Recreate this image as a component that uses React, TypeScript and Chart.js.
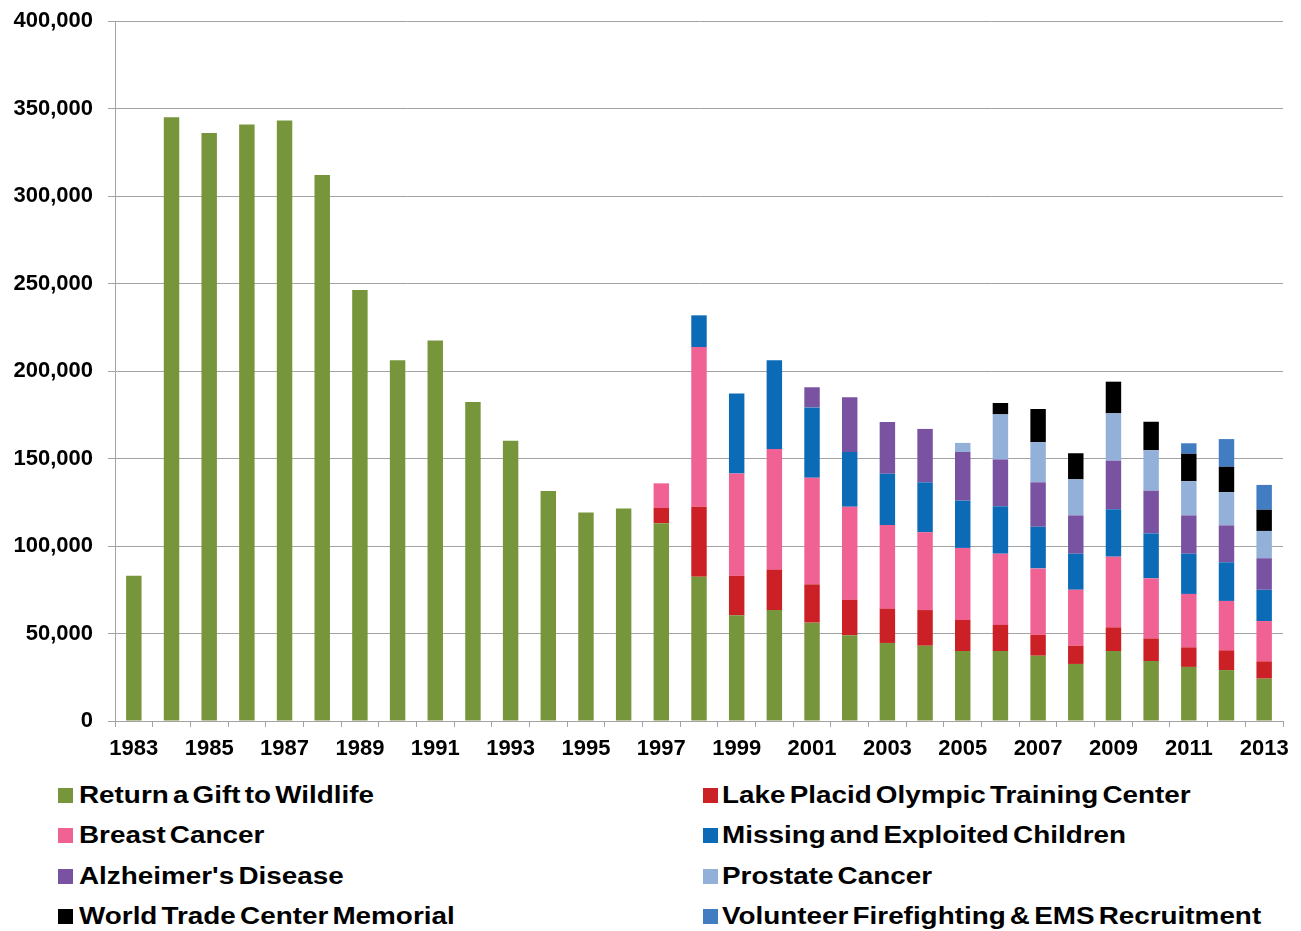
import React, { useEffect, useRef } from "react";
import { Chart, registerables } from "chart.js";

Chart.register(...registerables);

const years = [
  "1983", "1984", "1985", "1986", "1987", "1988", "1989", "1990", "1991", "1992",
  "1993", "1994", "1995", "1996", "1997", "1998", "1999", "2000", "2001", "2002",
  "2003", "2004", "2005", "2006", "2007", "2008", "2009", "2010", "2011", "2012", "2013",
];

const wildlife = [
  83000, 345000, 336000, 340800, 343200, 312000, 246300, 206100, 217500, 182300,
  160200, 131400, 119200, 121500, 113000, 82500, 60400, 63400, 56200, 49000,
  44600, 43000, 40000, 40000, 37300, 32600, 40000, 34300, 30900, 29100, 24200,
];
const lakePlacid = [
  null, null, null, null, null, null, null, null, null, null,
  null, null, null, null, 8700, 40000, 22600, 23100, 21900, 20300,
  19600, 20400, 17700, 14900, 12000, 10400, 13500, 12900, 11200, 11300, 9900,
];
const breastCancer = [
  null, null, null, null, null, null, null, null, null, null,
  null, null, null, null, 14100, 91200, 58500, 68900, 60900, 53200,
  47800, 44400, 41200, 40700, 37900, 32000, 40400, 34300, 30500, 28200, 23000,
];
const missingChildren = [
  null, null, null, null, null, null, null, null, null, null,
  null, null, null, null, null, 18100, 45700, 50700, 40200, 31200,
  29300, 28600, 27000, 27100, 23800, 20600, 27100, 25700, 23000, 22100, 17900,
];
const alzheimers = [
  null, null, null, null, null, null, null, null, null, null,
  null, null, null, null, null, null, null, null, 11500, 31300,
  29600, 30500, 27800, 26800, 25400, 21900, 27800, 24400, 21900, 21100, 18000,
];
const prostateCancer = [
  null, null, null, null, null, null, null, null, null, null,
  null, null, null, null, null, null, null, null, null, null,
  null, null, 5200, 25700, 23000, 20600, 27000, 23100, 19600, 18900, 15600,
];
const wtcMemorial = [
  null, null, null, null, null, null, null, null, null, null,
  null, null, null, null, null, null, null, null, null, null,
  null, null, null, 6500, 18900, 14900, 18100, 16300, 15600, 14600, 12100,
];
const volunteerFire = [
  null, null, null, null, null, null, null, null, null, null,
  null, null, null, null, null, null, null, null, null, null,
  null, null, null, null, null, null, null, null, 6000, 15800, 14200,
];

const yTicks = [0, 50000, 100000, 150000, 200000, 250000, 300000, 350000, 400000];

const seriesNames = [
  "Return a Gift to Wildlife",
  "Lake Placid Olympic Training Center",
  "Breast Cancer",
  "Missing and Exploited Children",
  "Alzheimer's Disease",
  "Prostate Cancer",
  "World Trade Center Memorial",
  "Volunteer Firefighting & EMS Recruitment",
];
const seriesColors = [
  "#77963B",
  "#CC2027",
  "#F06194",
  "#0C6BB6",
  "#7953A1",
  "#93B1D8",
  "#000000",
  "#417DC0",
];
const seriesData = [
  wildlife, lakePlacid, breastCancer, missingChildren,
  alzheimers, prostateCancer, wtcMemorial, volunteerFire,
];

// legend layout: [column, row] per series
const legendPos = [
  [0, 0], [1, 0], [0, 1], [1, 1], [0, 2], [1, 2], [0, 3], [1, 3],
];

const FONT = "'Liberation Sans', Arial, sans-serif";
const GRID = "#a3a3a3";

export default function App() {
  const canvasRef = useRef<HTMLCanvasElement | null>(null);

  useEffect(() => {
    const canvas = canvasRef.current;
    if (!canvas) return;
    const chart = new Chart(canvas, {
      type: "bar",
      data: {
        labels: years,
        datasets: seriesData.map((d, i) => ({
          label: seriesNames[i],
          data: d as (number | null)[],
          backgroundColor: seriesColors[i],
          borderWidth: 0,
          barPercentage: 0.41,
          categoryPercentage: 1,
        })),
      },
      options: {
        responsive: false,
        animation: false,
        devicePixelRatio: 1,
        layout: { padding: { top: 21, right: 18, left: 0, bottom: 0 } },
        plugins: {
          legend: { display: false },
          tooltip: { enabled: false },
        },
        scales: {
          x: {
            stacked: true,
            grid: {
              display: true,
              drawOnChartArea: false,
              drawTicks: true,
              tickLength: 6,
              color: GRID,
              offset: true,
            },
            border: { display: true, color: GRID, width: 1 },
            ticks: {
              autoSkip: false,
              maxRotation: 0,
              minRotation: 0,
              padding: 9,
              color: "#000",
              font: { family: FONT, size: 22, weight: "bold" },
              callback: (_v: any, i: number) => (i % 2 === 0 ? years[i] : ""),
            },
            afterFit: (s: any) => {
              s.height = 49;
            },
          },
          y: {
            stacked: true,
            min: 0,
            max: 400000,
            afterBuildTicks: (s: any) => {
              s.ticks = yTicks.map((v) => ({ value: v }));
            },
            grid: {
              color: GRID,
              lineWidth: 1,
              drawTicks: true,
              tickLength: 7,
            },
            border: { display: true, color: GRID, width: 1 },
            ticks: {
              padding: 15,
              color: "#000",
              font: { family: FONT, size: 22, weight: "bold" },
              callback: (v: any) => Number(v).toLocaleString("en-US"),
            },
            afterFit: (s: any) => {
              s.width = 115;
              s.paddingTop = 0;
              s.paddingBottom = 0;
            },
          },
        },
      },
    });
    return () => chart.destroy();
  }, []);

  const rowCenters = [795, 835, 876, 916];
  const boxLeft = [58, 703];
  const textLeft = [79, 722];

  return (
    <div
      style={{
        position: "absolute",
        left: 0,
        top: 0,
        width: 1301,
        height: 931,
        background: "#fff",
        overflow: "hidden",
      }}
    >
      <canvas
        ref={canvasRef}
        width={1301}
        height={770}
        style={{ position: "absolute", left: 0, top: 0, width: 1301, height: 770 }}
      />
      {seriesNames.map((name, i) => {
        const [col, row] = legendPos[i];
        const cy = rowCenters[row];
        return (
          <React.Fragment key={name}>
            <div
              style={{
                position: "absolute",
                left: boxLeft[col],
                top: cy - 7.5,
                width: 15,
                height: 15,
                background: seriesColors[i],
              }}
            />
            <div
              style={{
                position: "absolute",
                left: textLeft[col],
                top: cy - 14,
                height: 28,
                lineHeight: "28px",
                fontFamily: FONT,
                fontWeight: "bold",
                fontSize: 23.5,
                color: "#000",
                whiteSpace: "nowrap",
                wordSpacing: -3,
                transform: "scaleX(1.185)",
                transformOrigin: "left center",
              }}
            >
              {name}
            </div>
          </React.Fragment>
        );
      })}
    </div>
  );
}
